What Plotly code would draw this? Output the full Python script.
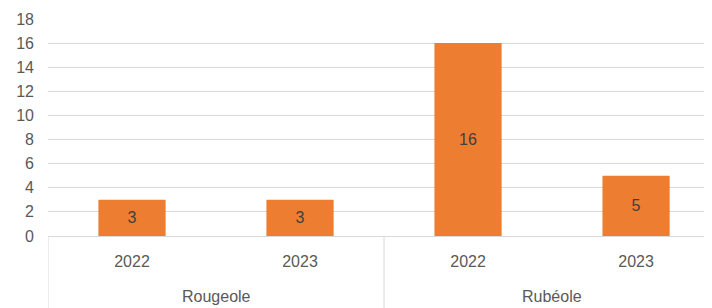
import plotly.graph_objects as go

diseases = ["Rougeole", "Rougeole", "Rubéole", "Rubéole"]
years = ["2022", "2023", "2022", "2023"]
values = [3, 3, 16, 5]
y_ticks = [0, 2, 4, 6, 8, 10, 12, 14, 16, 18]

FONT = "Liberation Sans"
GRAY = "#595959"
LINE = "#D9D9D9"

# The page body has an 8px default margin; the figure is sized to fill the rest.
W, H = 704, 300
ML, MT, MB = 40, 11, 72

idx = list(range(len(values)))

fig = go.Figure(go.Bar(
    x=idx,
    y=values,
    text=[str(v) for v in values],
    textposition="inside",
    insidetextanchor="middle",
    textfont=dict(family=FONT, size=16, color="#404040"),
    marker=dict(color="#ED7D31", line=dict(width=0)),
    hoverinfo="skip",
))

# group labels and dividers, derived from the category lists
groups = []
for i, d in enumerate(diseases):
    if not groups or groups[-1][0] != d:
        groups.append([d, i, i])
    else:
        groups[-1][2] = i

plot_h = H - MT - MB
for name, i0, i1 in groups:
    fig.add_annotation(
        x=(i0 + i1) / 2, xref="x", y=0, yref="y",
        text=name, showarrow=False, yanchor="middle", yshift=-60,
        font=dict(family=FONT, size=16, color=GRAY),
    )
bounds = sorted({g[1] - 0.5 for g in groups} | {g[2] + 0.5 for g in groups})
for b in bounds:
    fig.add_shape(
        type="line", xref="x", yref="paper",
        x0=b, x1=b, y0=0, y1=-(MB + 2) / plot_h,
        line=dict(color=LINE, width=1),
    )

fig.update_layout(
    width=W, height=H,
    margin=dict(l=ML, r=0, t=MT, b=MB),
    paper_bgcolor="white", plot_bgcolor="white",
    bargap=0.6,
    showlegend=False,
    font=dict(family=FONT, size=16, color=GRAY),
)
fig.update_xaxes(
    range=[-0.5, 3.452],
    tickvals=idx, ticktext=years,
    automargin=False,
    showgrid=False, zeroline=False,
    showline=True, linecolor=LINE, linewidth=1,
    tickfont=dict(family=FONT, size=16, color=GRAY),
    ticks="",
    ticklabelstandoff=11,
)
fig.update_yaxes(
    range=[0, 18],
    tickvals=y_ticks,
    automargin=False,
    showgrid=True, gridcolor=LINE, gridwidth=1,
    zeroline=False, showline=False,
    tickfont=dict(family=FONT, size=16, color=GRAY),
    ticklabelstandoff=13,
)

fig.write_html("out.html")
